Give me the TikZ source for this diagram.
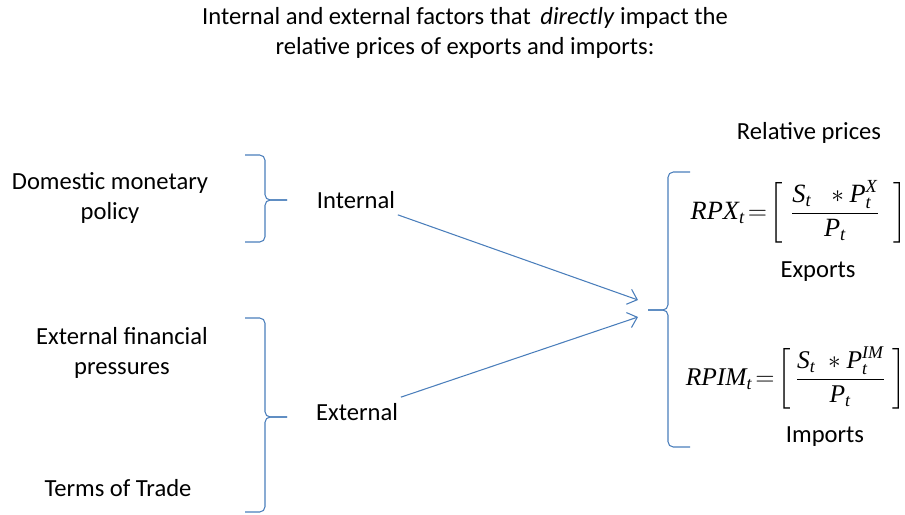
\documentclass[tikz,border=0pt]{standalone}
\usepackage{amsmath}
\usepackage{fontspec}
\setmainfont{Carlito}
\newfontfamily\eqfont{Liberation Serif}
\newcommand{\ev}[1]{\text{\eqfont\itshape #1}}
\usetikzlibrary{arrows.meta}
\definecolor{brc}{RGB}{74,126,187}

\begin{document}
\begin{tikzpicture}[x=0.02cm,y=-0.02cm,
    every node/.style={font=\fontsize{14}{17}\selectfont, align=center},
    brace/.style={draw=brc, line width=0.6pt, rounded corners=3pt},
    link/.style={draw=brc, line width=0.6pt, -{Straight Barb[length=5pt,width=9pt]}},
    eq/.style={font=\fontsize{15}{18}\selectfont, inner sep=0pt}]
   \useasboundingbox (0,0) rectangle (905,514);
   % title
   \node (title) at (465,33) {Internal and external factors that \,\textit{directly} impact the\\ relative prices of exports and imports:};
   % left side factors
   \node (dom) at (110,198) {Domestic monetary\\ policy};
   \node (extfin) at (122,353) {External financial\\ pressures};
   \node (tot) at (118,488) {Terms of Trade};
   \node (intl) at (356,200) {Internal};
   \node (extl) at (357,412) {External};
   % braces
   \draw[brace] (245,155) -- (265,155) -- (265,200) -- (287,200) ;
   \draw[brace] (287,200) -- (265,200) -- (265,242) -- (245,242) ;
   \draw[brace] (245,318) -- (265,318) -- (265,417) -- (287,417) ;
   \draw[brace] (287,417) -- (265,417) -- (265,512) -- (245,512) ;
   \draw[brace] (690,172) -- (668,172) -- (668,310) -- (648,310) ;
   \draw[brace] (648,310) -- (668,310) -- (668,447) -- (690,447) ;
   % right side
   \node (relp) at (809,133) {Relative prices};
   \node[eq] (rpx) at (799,212) {$\ev{RPX}_{\ev{t}}\!=\!\left[\;\dfrac{\ev{S}_{\ev{t}}\;\;\ast\ev{P}_{\ev{t}}^{\ev{X}}}{\ev{P}_{\ev{t}}}\;\;\right]$};
   \node (exp) at (818,272) {Exports};
   \node[eq, font=\fontsize{14.5}{17}\selectfont] (rpim) at (796,378) {$\ev{RPIM}_{\ev{t}}\!=\!\left[\,\dfrac{\ev{S}_{\ev{t}}\;\ast\ev{P}_{\ev{t}}^{\ev{IM}}}{\ev{P}_{\ev{t}}}\;\right]$};
   \node (imp) at (825,437) {Imports};
   % arrows
   \coordinate (tipa) at (638,300);
   \coordinate (tipb) at (638,317);
   \draw[link] (intl) -- (tipa);
   \draw[link] (extl) -- (tipb);
\end{tikzpicture}
\end{document}
